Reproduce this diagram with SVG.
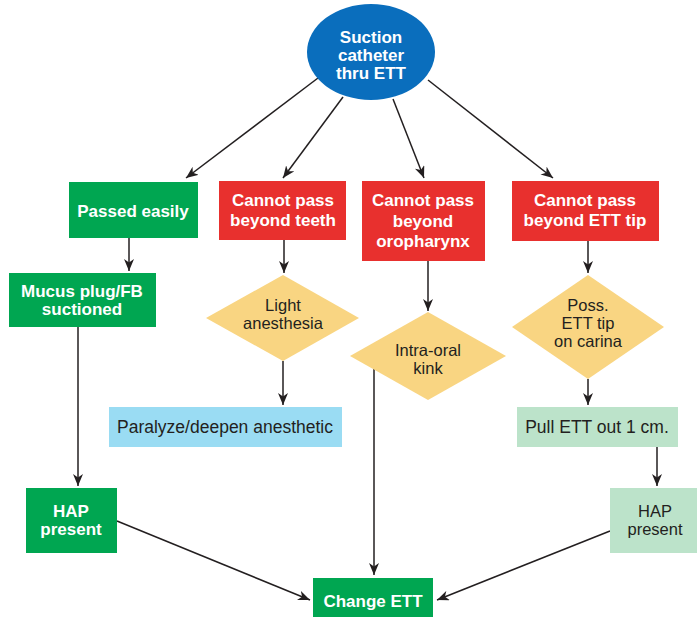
<svg xmlns="http://www.w3.org/2000/svg" width="697" height="619" viewBox="0 0 697 619">
<defs>
<marker id="ah" viewBox="0 0 12 10" refX="12" refY="5" markerWidth="12" markerHeight="10" markerUnits="userSpaceOnUse" orient="auto">
<path d="M0,0 L12,5 L0,10 L3.5,5 z" fill="#231F20"/>
</marker>
<style>
.b{font-family:"Liberation Sans",Arial,sans-serif;font-weight:bold;font-size:17px;fill:#fff;text-anchor:middle}
.r{font-family:"Liberation Sans",Arial,sans-serif;font-size:16.5px;fill:#231F20;text-anchor:middle}
.r1{font-family:"Liberation Sans",Arial,sans-serif;font-size:17.5px;fill:#231F20;text-anchor:middle}
.green{fill:#00A651}
.red{fill:#E8302E}
.yel{fill:#F9D582}
.lblue{fill:#9ADCF3}
.lgreen{fill:#BCE3CA}
.c line{stroke:#231F20;stroke-width:1.5;marker-end:url(#ah)}
</style>
</defs>
<g class="c" id="connectors">
<line x1="318" y1="78" x2="186" y2="178"/>
<line x1="343" y1="97" x2="283" y2="178"/>
<line x1="393" y1="99" x2="424" y2="178"/>
<line x1="428" y1="80" x2="553" y2="178"/>
<line x1="129" y1="238" x2="129" y2="271"/>
<line x1="284" y1="240" x2="284" y2="273"/>
<line x1="428" y1="261" x2="428" y2="311"/>
<line x1="588" y1="241" x2="588" y2="273"/>
<line x1="283" y1="361" x2="283" y2="405"/>
<line x1="588" y1="379" x2="588" y2="405"/>
<line x1="657" y1="447" x2="657" y2="486"/>
<line x1="78" y1="327" x2="78" y2="486"/>
<line x1="374" y1="369" x2="374" y2="575"/>
<line x1="117" y1="521" x2="310" y2="600"/>
<line x1="610" y1="531" x2="437" y2="600"/>
</g>
<g id="start">
<ellipse cx="371" cy="52" rx="64" ry="48" fill="#0A6EBD"/>
<text class="b" x="371" y="43">Suction</text>
<text class="b" x="371" y="61">catheter</text>
<text class="b" x="371" y="79">thru ETT</text>
</g>
<g id="passed">
<rect class="green" x="69" y="182" width="129" height="56"/>
<text class="b" x="133" y="217">Passed easily</text>
</g>
<g id="teeth">
<rect class="red" x="219" y="181" width="127" height="59"/>
<text class="b" x="283" y="206">Cannot pass</text>
<text class="b" x="283" y="226">beyond teeth</text>
</g>
<g id="oropharynx">
<rect class="red" x="362" y="181" width="123" height="80"/>
<text class="b" x="423" y="206">Cannot pass</text>
<text class="b" x="423" y="227">beyond</text>
<text class="b" x="423" y="247">oropharynx</text>
</g>
<g id="etttip">
<rect class="red" x="512" y="181" width="147" height="60"/>
<text class="b" x="585" y="206">Cannot pass</text>
<text class="b" x="585" y="226">beyond ETT tip</text>
</g>
<g id="mucus">
<rect class="green" x="9" y="273" width="147" height="54"/>
<text class="b" x="82" y="297">Mucus plug/FB</text>
<text class="b" x="82" y="315">suctioned</text>
</g>
<g id="light">
<polygon class="yel" points="283,275 359,318 283,361 206,318"/>
<text class="r" x="283" y="311">Light</text>
<text class="r" x="283" y="329">anesthesia</text>
</g>
<g id="kink">
<polygon class="yel" points="428,312 506,356 428,400 350,356"/>
<text class="r" x="428" y="356">Intra-oral</text>
<text class="r" x="428" y="374">kink</text>
</g>
<g id="carina">
<polygon class="yel" points="588,275 664,327 588,379 512,327"/>
<text class="r" x="588" y="311">Poss.</text>
<text class="r" x="588" y="329">ETT tip</text>
<text class="r" x="588" y="347">on carina</text>
</g>
<g id="paralyze">
<rect class="lblue" x="109" y="407" width="233" height="40"/>
<text class="r1" x="225" y="433">Paralyze/deepen anesthetic</text>
</g>
<g id="pull">
<rect class="lgreen" x="517" y="407" width="161" height="40"/>
<text class="r1" x="597" y="433">Pull ETT out 1 cm.</text>
</g>
<g id="hapleft">
<rect class="green" x="26" y="488" width="91" height="65"/>
<text class="b" x="71" y="517">HAP</text>
<text class="b" x="71" y="535">present</text>
</g>
<g id="hapright">
<rect class="lgreen" x="610" y="488" width="87" height="65"/>
<text class="r" x="655" y="517">HAP</text>
<text class="r" x="655" y="535">present</text>
</g>
<g id="change">
<rect class="green" x="313" y="578" width="120" height="39"/>
<text class="b" x="373" y="607">Change ETT</text>
</g>
</svg>
